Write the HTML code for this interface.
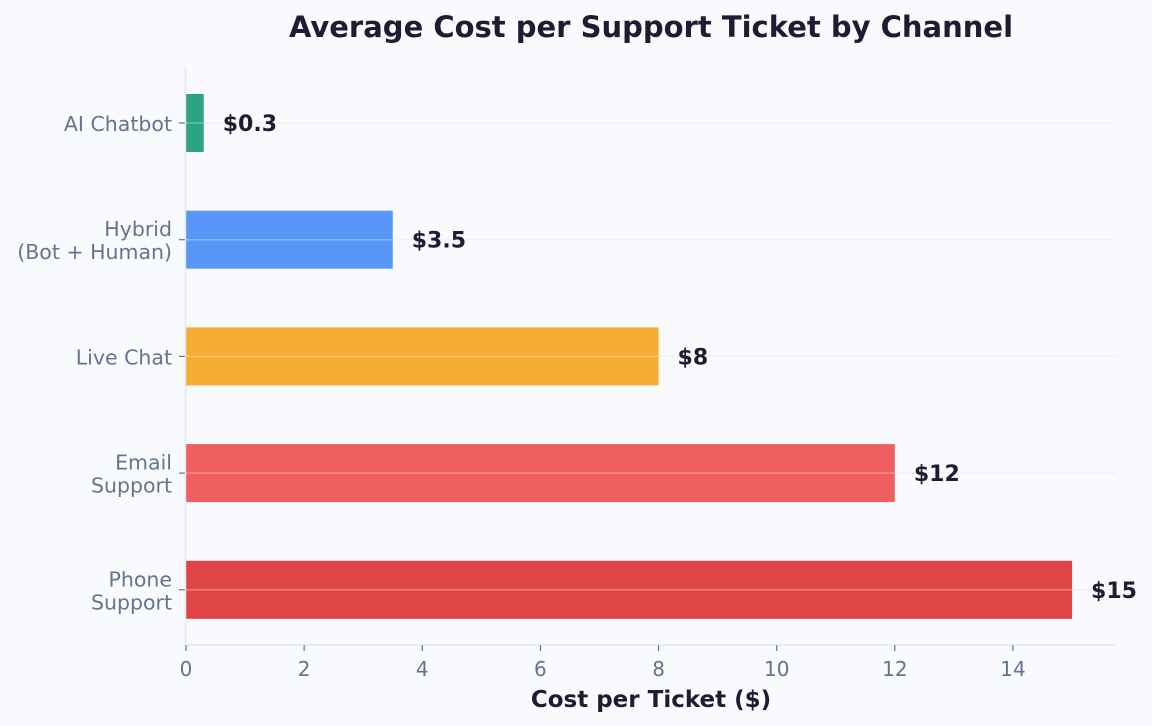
<!DOCTYPE html>
<html><head><meta charset="utf-8"><style>
html,body{margin:0;padding:0;background:#f8fafe;}
svg{display:block;font-family:"DejaVu Sans","Liberation Sans",sans-serif;}
</style></head><body>
<svg id="chart" width="1152" height="726" viewBox="0 0 1152 726" xmlns="http://www.w3.org/2000/svg">
<rect width="1152" height="726" fill="#f8fafe"/>
<text x="651" y="37" text-anchor="middle" font-size="29" font-weight="bold" fill="#1e1b33">Average Cost per Support Ticket by Channel</text>
<g id="grid"></g><g id="bars"></g><g id="axes"></g>
<text x="651" y="707" text-anchor="middle" font-size="23" font-weight="bold" fill="#1e1b33">Cost per Ticket ($)</text>
</svg>
<script>
const categories = [["AI Chatbot"],["Hybrid","(Bot + Human)"],["Live Chat"],["Email","Support"],["Phone","Support"]];
const values = [0.3,3.5,8,12,15];
const valueLabels = ["$0.3","$3.5","$8","$12","$15"];
const colors = ["#2ba57f","#5896f8","#f5ac31","#ef5f5f","#e04545"];
const xTicks = [0,2,4,6,8,10,12,14];

const NS="http://www.w3.org/2000/svg";
const x0=186,x1=1116,y0=67,y1=645,pxPer=59.07;
const xs=v=>x0+v*pxPer;
const yc=i=>123+i*116.7;
const barH=58;
function mk(tag,attrs,parent,text){const e=document.createElementNS(NS,tag);for(const k in attrs)e.setAttribute(k,attrs[k]);if(text!==undefined)e.textContent=text;parent.appendChild(e);return e;}
const grid=document.getElementById('grid'),bars=document.getElementById('bars'),axes=document.getElementById('axes');

values.forEach((v,i)=>{
  const gl=mk('line',{x1:x0,x2:x1,y1:yc(i),y2:yc(i),stroke:'#eef1f6','stroke-width':1.5},grid);
  
  
  const r=mk('rect',{x:xs(0),y:yc(i)-barH/2,width:xs(v)-xs(0),height:barH,fill:colors[i]},bars);
  
  
  const g=mk('line',{x1:x0,x2:xs(v),y1:yc(i),y2:yc(i),stroke:'#ffffff','stroke-opacity':0.3,'stroke-width':1.5},bars);
  
  
  const t=mk('text',{x:xs(v)+19,y:yc(i)+8,'font-size':22,'font-weight':'bold',fill:'#1e1b33'},bars,valueLabels[i]);
  
  
  const lines=categories[i];
  lines.forEach((s,j)=>{
    const ty=yc(i)+8+(j-(lines.length-1)/2)*23;
    const l=mk('text',{x:172,y:ty,'text-anchor':'end','font-size':20.5,fill:'#64748b'},axes,s);
    
    
  });
  const tk=mk('line',{x1:179,x2:185,y1:yc(i),y2:yc(i),stroke:'#64748b','stroke-width':1.2},axes);
  
  
});
const ax=mk('line',{x1:x0-0.5,x2:x0-0.5,y1:y0,y2:y1,stroke:'#e2e8f0','stroke-width':1.5},axes);


const bx=mk('line',{x1:x0,x2:x1,y1:y1,y2:y1,stroke:'#e2e8f0','stroke-width':1.5},axes);


xTicks.forEach(v=>{
  const tk=mk('line',{x1:xs(v),x2:xs(v),y1:y1,y2:y1+6,stroke:'#64748b','stroke-width':1.2},axes);
  
  
  const t=mk('text',{x:xs(v),y:676,'text-anchor':'middle','font-size':20,fill:'#64748b'},axes,String(v));
  
  
});
</script>
</body></html>
